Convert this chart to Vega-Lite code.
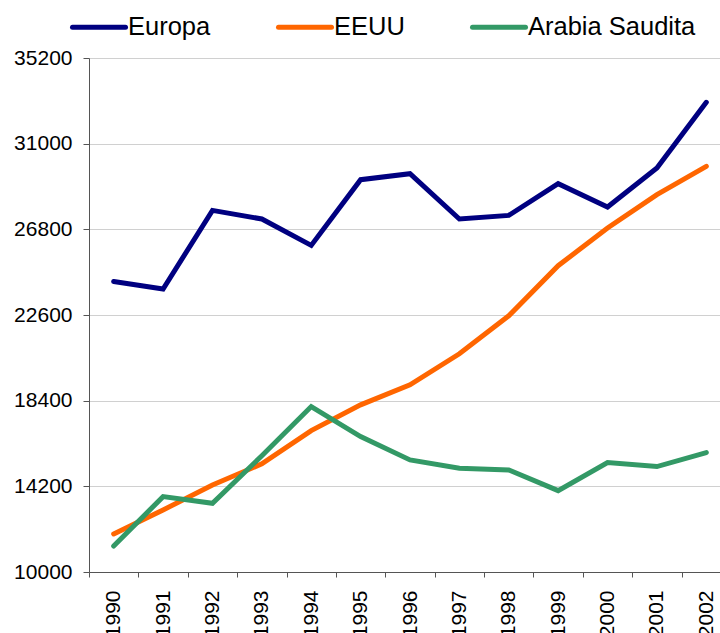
{
  "$schema": "https://vega.github.io/schema/vega-lite/v6.json",
  "autosize": {"type": "none"},
  "padding": {"left": 89, "top": 58, "right": 0, "bottom": 61},
  "width": 631,
  "height": 514,
  "background": "white",
  "config": {
    "font": "Liberation Sans",
    "view": {"stroke": null}
  },
  "data": {
    "values": [
      {"year": "1990", "serie": "Europa", "valor": 24245},
      {"year": "1991", "serie": "Europa", "valor": 23872},
      {"year": "1992", "serie": "Europa", "valor": 27729},
      {"year": "1993", "serie": "Europa", "valor": 27307},
      {"year": "1994", "serie": "Europa", "valor": 26012},
      {"year": "1995", "serie": "Europa", "valor": 29235},
      {"year": "1996", "serie": "Europa", "valor": 29530},
      {"year": "1997", "serie": "Europa", "valor": 27307},
      {"year": "1998", "serie": "Europa", "valor": 27484},
      {"year": "1999", "serie": "Europa", "valor": 29039},
      {"year": "2000", "serie": "Europa", "valor": 27896},
      {"year": "2001", "serie": "Europa", "valor": 29810},
      {"year": "2002", "serie": "Europa", "valor": 33029},
      {"year": "1990", "serie": "EEUU", "valor": 11865},
      {"year": "1991", "serie": "EEUU", "valor": 13042},
      {"year": "1992", "serie": "EEUU", "valor": 14269},
      {"year": "1993", "serie": "EEUU", "valor": 15300},
      {"year": "1994", "serie": "EEUU", "valor": 16934},
      {"year": "1995", "serie": "EEUU", "valor": 18195},
      {"year": "1996", "serie": "EEUU", "valor": 19176},
      {"year": "1997", "serie": "EEUU", "valor": 20700},
      {"year": "1998", "serie": "EEUU", "valor": 22562},
      {"year": "1999", "serie": "EEUU", "valor": 25015},
      {"year": "2000", "serie": "EEUU", "valor": 26866},
      {"year": "2001", "serie": "EEUU", "valor": 28500},
      {"year": "2002", "serie": "EEUU", "valor": 29889},
      {"year": "1990", "serie": "Arabia Saudita", "valor": 11276},
      {"year": "1991", "serie": "Arabia Saudita", "valor": 13695},
      {"year": "1992", "serie": "Arabia Saudita", "valor": 13371},
      {"year": "1993", "serie": "Arabia Saudita", "valor": 15700},
      {"year": "1994", "serie": "Arabia Saudita", "valor": 18111},
      {"year": "1995", "serie": "Arabia Saudita", "valor": 16639},
      {"year": "1996", "serie": "Arabia Saudita", "valor": 15496},
      {"year": "1997", "serie": "Arabia Saudita", "valor": 15088},
      {"year": "1998", "serie": "Arabia Saudita", "valor": 15005},
      {"year": "1999", "serie": "Arabia Saudita", "valor": 13990},
      {"year": "2000", "serie": "Arabia Saudita", "valor": 15365},
      {"year": "2001", "serie": "Arabia Saudita", "valor": 15169},
      {"year": "2002", "serie": "Arabia Saudita", "valor": 15856}
    ]
  },
  "mark": {"type": "line", "strokeWidth": 5, "strokeCap": "round", "strokeJoin": "miter"},
  "encoding": {
    "x": {
      "field": "year",
      "type": "ordinal",
      "scale": {"type": "band", "paddingInner": 0, "paddingOuter": 0, "range": [0, 642]},
      "axis": {
        "title": null,
        "tickBand": "extent",
        "labelAngle": -90,
        "labelFontSize": 21,
        "labelColor": "black",
        "labelPadding": 13,
        "tickSize": 5,
        "tickColor": "#555555",
        "domainColor": "#555555",
        "grid": false
      }
    },
    "y": {
      "field": "valor",
      "type": "quantitative",
      "scale": {"domain": [10000, 35200], "nice": false, "zero": false},
      "axis": {
        "title": null,
        "values": [10000, 14200, 18400, 22600, 26800, 31000, 35200],
        "format": "d",
        "labelFontSize": 21,
        "labelColor": "black",
        "labelPadding": 11,
        "tickSize": 6,
        "tickColor": "#555555",
        "domainColor": "#555555",
        "grid": true,
        "gridColor": "#d0d0d0",
        "gridWidth": 1
      }
    },
    "color": {
      "field": "serie",
      "type": "nominal",
      "scale": {
        "domain": ["Europa", "EEUU", "Arabia Saudita"],
        "range": ["#000080", "#FF6600", "#339966"]
      },
      "legend": {
        "title": null,
        "orient": "none",
        "legendX": -19,
        "legendY": -60,
        "direction": "horizontal",
        "symbolType": "stroke",
        "symbolSize": 2809,
        "symbolStrokeWidth": 5,
        "labelFontSize": 25.5,
        "labelColor": "black",
        "labelOffset": 0,
        "columnPadding": 57,
        "padding": 0,
        "labelLimit": 400,
        "encode": {"symbols": {"update": {"strokeCap": {"value": "round"}}}}
      }
    }
  }
}
